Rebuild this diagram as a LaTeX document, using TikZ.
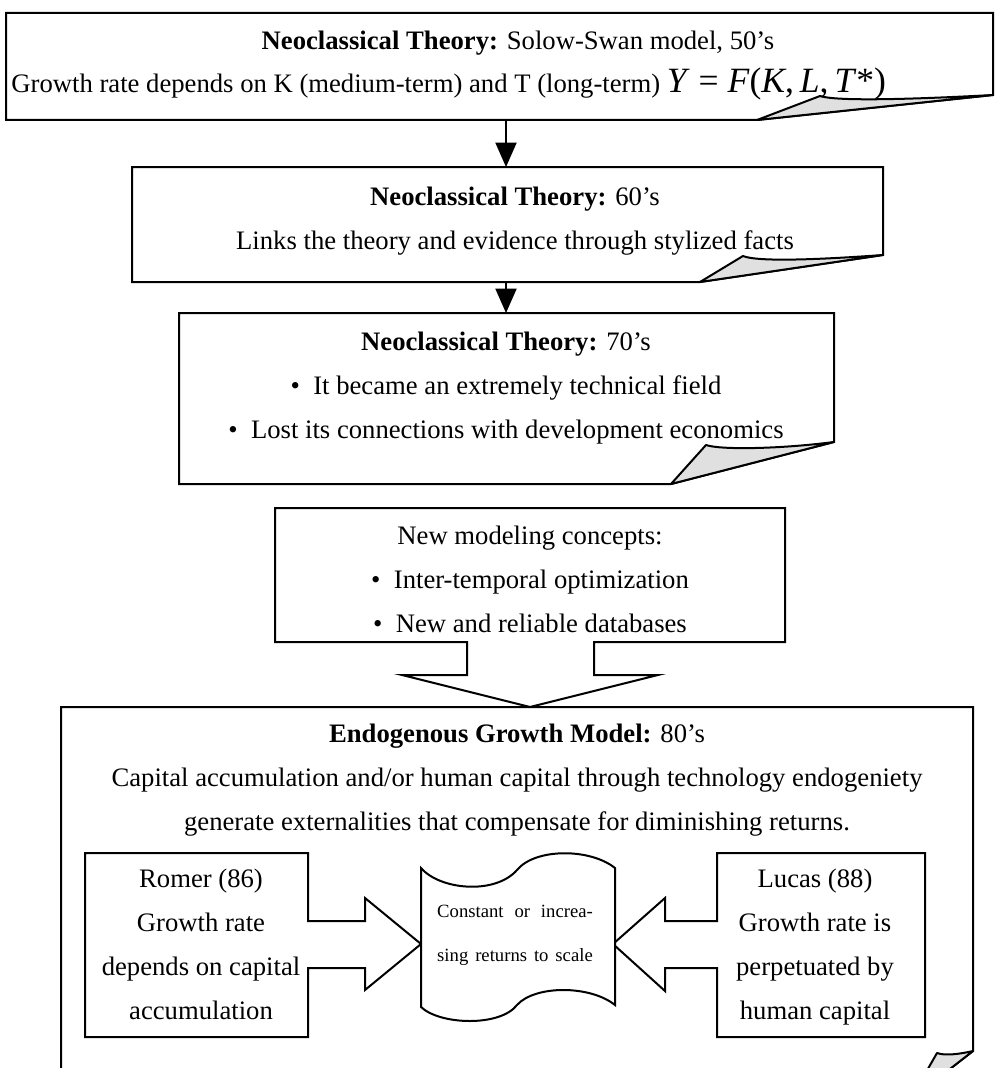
\documentclass[tikz,border=0pt]{standalone}
\usepackage{fontspec}
\setmainfont{Liberation Serif}
\usepackage{tikz}
\definecolor{foldgray}{RGB}{224,224,224}
\usetikzlibrary{arrows.meta}
\newcommand{\prodfn}{{\fontsize{16}{16}\selectfont\textit{Y}~=~\textit{F}(\textit{K},\,\textit{L},\,\textit{T}*)}}

\begin{document}
\begin{tikzpicture}[
    x=0.45pt, y=-0.45pt,
    outline/.style={draw=black, line width=0.9pt, fill=white},
    fold/.style={draw=black, line width=0.9pt, fill=foldgray, line join=round},
    txt/.style={anchor=base, align=center, inner sep=0pt, font=\fontsize{12}{19.8}\selectfont},
    small/.style={anchor=base, align=center, inner sep=0pt, font=\fontsize{8.4}{19.4}\selectfont},
    flow/.style={-{Triangle[width=9.5pt,length=11pt]}, line width=0.8pt}
]
    \useasboundingbox (0,0) rectangle (996,1068);

    % Solow-Swan box
    \draw[outline] (6,13) -- (993,13) -- (993,95) -- (757,120) -- (6,120) -- cycle;
    \draw[fold] (757,120) -- (820,96) .. controls (835,101) and (900,100) .. (993,95) -- cycle;
    \node[txt] (neo50) at (518,50) {\textbf{Neoclassical Theory:} Solow-Swan model, 50's};
    \node[txt, anchor=base west] (solow) at (11,92) {Growth rate depends on K (medium-term) and T (long-term) \prodfn};

    % 60's box (node base = last line)
    \draw[outline] (132,167) -- (883,167) -- (883,255) -- (700,282) -- (132,282) -- cycle;
    \draw[fold] (700,282) -- (743,256) .. controls (755,261) and (800,261) .. (883,255) -- cycle;
    \node[txt] (neo60) at (515,249) {\textbf{Neoclassical Theory:} 60's\\
        Links the theory and evidence through stylized facts};

    % 70's box
    \draw[outline] (179,313) -- (834,313) -- (834,442) -- (671,484) -- (179,484) -- cycle;
    \draw[fold] (671,484) -- (706,445) .. controls (720,450) and (780,449) .. (834,442) -- cycle;
    \node[txt] (neo70) at (506,438) {\textbf{Neoclassical Theory:} 70's\\
        \textbullet\enspace It became an extremely technical field\\
        \textbullet\enspace Lost its connections with development economics};

    % Arrows
    \coordinate (neo50-s) at (506,120);
    \coordinate (neo60-n) at (506,167);
    \coordinate (neo60-s) at (506,282);
    \coordinate (neo70-n) at (506,313);
    \draw[flow] (neo50-s) -- (neo60-n);
    \draw[flow] (neo60-s) -- (neo70-n);

    % Endogenous growth box
    \draw[outline] (61,707) -- (973,707) -- (973,1051) -- (910,1100) -- (61,1100) -- cycle;
    \draw[fold] (910,1100) -- (937,1053) .. controls (945,1056) and (960,1054) .. (973,1051) -- cycle;
    \node[txt] (endo) at (517,830) {\textbf{Endogenous Growth Model:} 80's\\
        Capital accumulation and/or human capital through technology endogeniety\\
        generate externalities that compensate for diminishing returns.};

    % New concepts callout
    \draw[outline] (275,508) -- (785,508) -- (785,642) -- (594,642) -- (594,675) -- (658,675)
        -- (530,707) -- (402,675) -- (467,675) -- (467,642) -- (275,642) -- cycle;
    \node[txt] (concepts) at (530,632) {New modeling concepts:\\
        \textbullet\enspace Inter-temporal optimization\\
        \textbullet\enspace New and reliable databases};

    % Romer callout
    \draw[outline] (85,853) -- (308,853) -- (308,921) -- (365,921) -- (365,898) -- (421,944)
        -- (365,990) -- (365,968) -- (308,968) -- (308,1037) -- (85,1037) -- cycle;
    \node[txt] (romer) at (201,1019) {Romer (86)\\Growth rate\\depends on capital\\accumulation};

    % Lucas callout
    \draw[outline] (925,853) -- (717,853) -- (717,921) -- (665,921) -- (665,898) -- (613,944)
        -- (665,991) -- (665,968) -- (717,968) -- (717,1037) -- (925,1037) -- cycle;
    \node[txt] (lucas) at (815,1019) {Lucas (88)\\Growth rate is\\perpetuated by\\human capital};

    % Returns to scale tape
    \draw[outline] (421,868) .. controls (440,890) and (495,895) .. (517,870)
        .. controls (535,848) and (590,848) .. (615,868) -- (615,1005)
        .. controls (590,985) and (535,985) .. (517,1005)
        .. controls (500,1027) and (440,1025) .. (421,1007) -- cycle;
    \node[small] (returns) at (515,961) {\makebox[70pt][s]{Constant or increa-}\\
        \makebox[70pt][s]{sing returns to scale}};
\end{tikzpicture}
\end{document}
